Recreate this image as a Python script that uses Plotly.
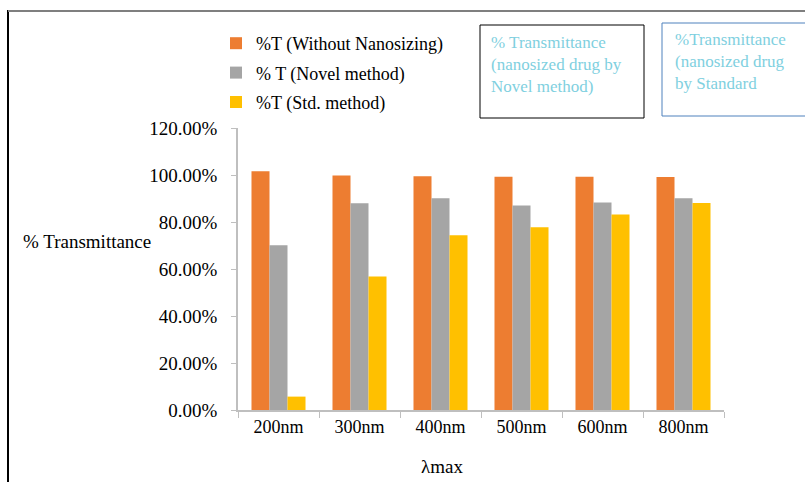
import plotly.graph_objects as go

# Wavelengths and % transmittance for each preparation
wavelengths = ["200nm", "300nm", "400nm", "500nm", "600nm", "800nm"]
t_without_nano = [1.016, 0.998, 0.995, 0.993, 0.993, 0.992]
t_novel = [0.701, 0.880, 0.901, 0.870, 0.883, 0.901]
t_std = [0.057, 0.568, 0.744, 0.778, 0.832, 0.881]

series_names = ["%T (Without Nanosizing)", "% T (Novel method)", "%T (Std. method)"]
series_values = [t_without_nano, t_novel, t_std]
series_colors = ["#ED7D31", "#A5A5A5", "#FFC000"]

box_texts = [
    "% Transmittance<br>(nanosized drug by<br>Novel method)",
    "%Transmittance<br>(nanosized drug<br>by Standard",
]

W, H = 805, 482
L, R, T, B = 238, 81, 128, 72
PW, PH = W - L - R, H - T - B


def px_x(px):
    return (px - L) / PW


def px_y(py):
    return (H - B - py) / PH


FONT = "Liberation Serif"


def serif(size, color="#000000"):
    return dict(family=FONT, size=size, color=color)


fig = go.Figure()
for i, (name, vals, col) in enumerate(zip(series_names, series_values, series_colors)):
    fig.add_trace(go.Bar(
        x=wavelengths, y=vals, name=name,
        marker=dict(color=col, line=dict(width=0)),
        legendgroup=f"g{i}",
    ))

fig.update_layout(
    width=W, height=H,
    margin=dict(l=L, r=R, t=T, b=B),
    paper_bgcolor="white", plot_bgcolor="white",
    barmode="group", bargap=0.333, bargroupgap=0,
    font=serif(18),
    showlegend=True,
    legend=dict(
        x=px_x(216), y=px_y(25), xanchor="left", yanchor="top",
        bgcolor="rgba(0,0,0,0)", tracegroupgap=3,
        font=serif(18),
    ),
    xaxis=dict(
        showline=True, linecolor="#BFBFBF", linewidth=1.5,
        ticks="outside", tickson="boundaries", ticklen=6, tickcolor="#BFBFBF",
        showgrid=False, tickfont=serif(18),
    ),
    yaxis=dict(
        range=[0, 1.2], dtick=0.2, tickformat=".2%",
        showline=True, linecolor="#BFBFBF", linewidth=1.5,
        ticks="outside", ticklen=5, tickcolor="#BFBFBF",
        showgrid=False, zeroline=False, ticklabelstandoff=10,
        tickfont=serif(19),
    ),
)

# Axis titles
fig.add_annotation(x=px_x(21), y=px_y(241), xref="paper", yref="paper",
                   text="% Transmittance", showarrow=False,
                   xanchor="left", yanchor="middle", font=serif(19))
fig.add_annotation(x=px_x(442), y=px_y(466), xref="paper", yref="paper",
                   text="λmax", showarrow=False,
                   xanchor="center", yanchor="middle", font=serif(19))

# Outer frame (left and top edges)
fig.add_shape(type="line", xref="paper", yref="paper",
              x0=px_x(8), x1=px_x(8), y0=px_y(10), y1=px_y(490),
              line=dict(color="#000000", width=2))
fig.add_shape(type="line", xref="paper", yref="paper",
              x0=px_x(8), x1=px_x(820), y0=px_y(11), y1=px_y(11),
              line=dict(color="#7F7F7F", width=2))

# Text boxes
fig.add_shape(type="rect", xref="paper", yref="paper",
              x0=px_x(480), x1=px_x(644), y0=px_y(25), y1=px_y(118),
              line=dict(color="#000000", width=1), fillcolor="white")
fig.add_shape(type="rect", xref="paper", yref="paper",
              x0=px_x(662), x1=px_x(830), y0=px_y(23), y1=px_y(116),
              line=dict(color="#4F81BD", width=1), fillcolor="white")
fig.add_annotation(x=px_x(489), y=px_y(31), xref="paper", yref="paper",
                   text=box_texts[0], showarrow=False, align="left",
                   xanchor="left", yanchor="top",
                   font=serif(17, "#7FD0E0"))
fig.add_annotation(x=px_x(673), y=px_y(28), xref="paper", yref="paper",
                   text=box_texts[1], showarrow=False, align="left",
                   xanchor="left", yanchor="top",
                   font=serif(17, "#7FD0E0"))

fig.write_html("out.html")
